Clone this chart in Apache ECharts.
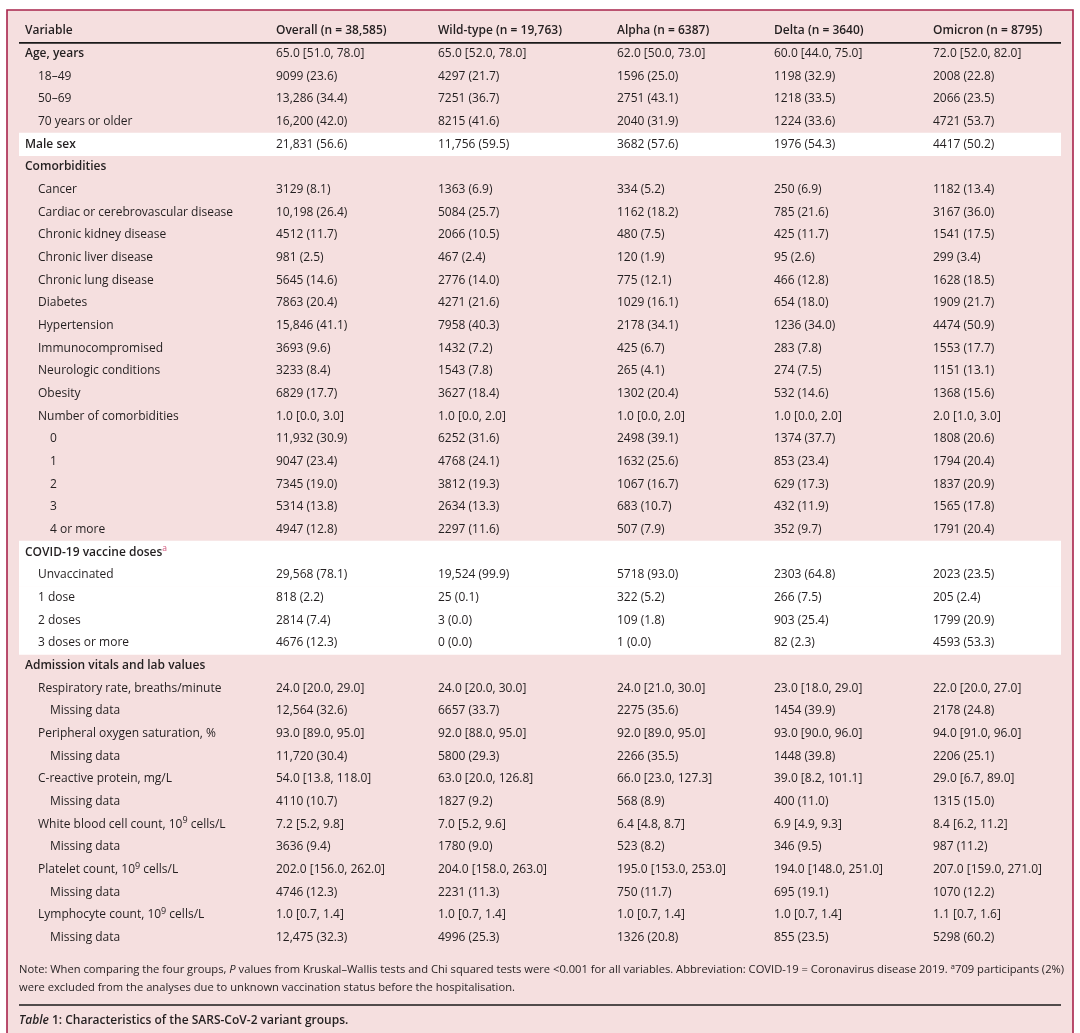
<!DOCTYPE html>
<html><head><meta charset="utf-8">
<script src="https://cdn.jsdelivr.net/npm/echarts@6/dist/echarts.min.js"></script>
<style>html,body{margin:0;padding:0;background:#fff}#c{width:1080px;height:1033px}</style>
</head><body><div id="c"></div>
<script>
// ---------- DATA ----------
const headers = ['Variable','Overall (n = 38,585)','Wild-type (n = 19,763)','Alpha (n = 6387)','Delta (n = 3640)','Omicron (n = 8795)'];
const variables = ['Age, years','18–49','50–69','70 years or older','Male sex','Comorbidities','Cancer','Cardiac or cerebrovascular disease','Chronic kidney disease','Chronic liver disease','Chronic lung disease','Diabetes','Hypertension','Immunocompromised','Neurologic conditions','Obesity','Number of comorbidities','0','1','2','3','4 or more','COVID-19 vaccine doses{sa|a}','Unvaccinated','1 dose','2 doses','3 doses or more','Admission vitals and lab values','Respiratory rate, breaths/minute','Missing data','Peripheral oxygen saturation, %','Missing data','C-reactive protein, mg/L','Missing data','White blood cell count, 10{sup|9} cells/L','Missing data','Platelet count, 10{sup|9} cells/L','Missing data','Lymphocyte count, 10{sup|9} cells/L','Missing data'];
const levels = [0,1,1,1,0,0,1,1,1,1,1,1,1,1,1,1,1,2,2,2,2,2,0,1,1,1,1,0,1,2,1,2,1,2,1,2,1,2,1,2];
const boldRows = [0,4,5,22,27];
const whiteRows = [4,22,23,24,25,26];
const overall = ['65.0 [51.0, 78.0]','9099 (23.6)','13,286 (34.4)','16,200 (42.0)','21,831 (56.6)','','3129 (8.1)','10,198 (26.4)','4512 (11.7)','981 (2.5)','5645 (14.6)','7863 (20.4)','15,846 (41.1)','3693 (9.6)','3233 (8.4)','6829 (17.7)','1.0 [0.0, 3.0]','11,932 (30.9)','9047 (23.4)','7345 (19.0)','5314 (13.8)','4947 (12.8)','','29,568 (78.1)','818 (2.2)','2814 (7.4)','4676 (12.3)','','24.0 [20.0, 29.0]','12,564 (32.6)','93.0 [89.0, 95.0]','11,720 (30.4)','54.0 [13.8, 118.0]','4110 (10.7)','7.2 [5.2, 9.8]','3636 (9.4)','202.0 [156.0, 262.0]','4746 (12.3)','1.0 [0.7, 1.4]','12,475 (32.3)'];
const wildType = ['65.0 [52.0, 78.0]','4297 (21.7)','7251 (36.7)','8215 (41.6)','11,756 (59.5)','','1363 (6.9)','5084 (25.7)','2066 (10.5)','467 (2.4)','2776 (14.0)','4271 (21.6)','7958 (40.3)','1432 (7.2)','1543 (7.8)','3627 (18.4)','1.0 [0.0, 2.0]','6252 (31.6)','4768 (24.1)','3812 (19.3)','2634 (13.3)','2297 (11.6)','','19,524 (99.9)','25 (0.1)','3 (0.0)','0 (0.0)','','24.0 [20.0, 30.0]','6657 (33.7)','92.0 [88.0, 95.0]','5800 (29.3)','63.0 [20.0, 126.8]','1827 (9.2)','7.0 [5.2, 9.6]','1780 (9.0)','204.0 [158.0, 263.0]','2231 (11.3)','1.0 [0.7, 1.4]','4996 (25.3)'];
const alpha = ['62.0 [50.0, 73.0]','1596 (25.0)','2751 (43.1)','2040 (31.9)','3682 (57.6)','','334 (5.2)','1162 (18.2)','480 (7.5)','120 (1.9)','775 (12.1)','1029 (16.1)','2178 (34.1)','425 (6.7)','265 (4.1)','1302 (20.4)','1.0 [0.0, 2.0]','2498 (39.1)','1632 (25.6)','1067 (16.7)','683 (10.7)','507 (7.9)','','5718 (93.0)','322 (5.2)','109 (1.8)','1 (0.0)','','24.0 [21.0, 30.0]','2275 (35.6)','92.0 [89.0, 95.0]','2266 (35.5)','66.0 [23.0, 127.3]','568 (8.9)','6.4 [4.8, 8.7]','523 (8.2)','195.0 [153.0, 253.0]','750 (11.7)','1.0 [0.7, 1.4]','1326 (20.8)'];
const delta = ['60.0 [44.0, 75.0]','1198 (32.9)','1218 (33.5)','1224 (33.6)','1976 (54.3)','','250 (6.9)','785 (21.6)','425 (11.7)','95 (2.6)','466 (12.8)','654 (18.0)','1236 (34.0)','283 (7.8)','274 (7.5)','532 (14.6)','1.0 [0.0, 2.0]','1374 (37.7)','853 (23.4)','629 (17.3)','432 (11.9)','352 (9.7)','','2303 (64.8)','266 (7.5)','903 (25.4)','82 (2.3)','','23.0 [18.0, 29.0]','1454 (39.9)','93.0 [90.0, 96.0]','1448 (39.8)','39.0 [8.2, 101.1]','400 (11.0)','6.9 [4.9, 9.3]','346 (9.5)','194.0 [148.0, 251.0]','695 (19.1)','1.0 [0.7, 1.4]','855 (23.5)'];
const omicron = ['72.0 [52.0, 82.0]','2008 (22.8)','2066 (23.5)','4721 (53.7)','4417 (50.2)','','1182 (13.4)','3167 (36.0)','1541 (17.5)','299 (3.4)','1628 (18.5)','1909 (21.7)','4474 (50.9)','1553 (17.7)','1151 (13.1)','1368 (15.6)','2.0 [1.0, 3.0]','1808 (20.6)','1794 (20.4)','1837 (20.9)','1565 (17.8)','1791 (20.4)','','2023 (23.5)','205 (2.4)','1799 (20.9)','4593 (53.3)','','22.0 [20.0, 27.0]','2178 (24.8)','94.0 [91.0, 96.0]','2206 (25.1)','29.0 [6.7, 89.0]','1315 (15.0)','8.4 [6.2, 11.2]','987 (11.2)','207.0 [159.0, 271.0]','1070 (12.2)','1.1 [0.7, 1.6]','5298 (60.2)'];
const noteLine1 = 'Note: When comparing the four groups, {i|P} values from Kruskal–Wallis tests and Chi squared tests were <0.001 for all variables. Abbreviation: COVID-19 = Coronavirus disease 2019. {sup|a}709 participants (2%)';
const noteLine2 = 'were excluded from the analyses due to unknown vaccination status before the hospitalisation.';
const caption = '{i|Table} 1: Characteristics of the SARS-CoV-2 variant groups.';

// ---------- LAYOUT / STYLE ----------
const FONT = '"Open Sans", "DejaVu Sans", sans-serif';
const FS = 12;
const NFS = 11.2;
const TXT = '#231f20';
const PINK = '#f5dfdf';
const CRIMSON = '#a8244c';
const BOLD = '600';
const colX = [25, 276, 438, 617, 774, 933];
const indentX = [25, 38, 50];
const tableLeft = 19, tableRight = 1061;
const columns = [overall, wildType, alpha, delta, omicron];
const nRows = variables.length + 1; // header + rows
const rowKeys = Array.from({length: nRows}, (_, i) => String(i));
const ROWH = 884 / 39;

const richStyles = {
  sup: {fontSize: 9, fontFamily: FONT, fill: TXT, verticalAlign: 'top', lineHeight: 8},
  sa: {fontSize: 8.5, fontFamily: FONT, fill: '#d0557a', verticalAlign: 'top', lineHeight: 8},
  i: {fontStyle: 'italic', fontFamily: FONT, fontSize: FS, fill: TXT}
};

function rowRender(params, api) {
  const r = api.value(0);
  const yc = api.coord([0, r])[1];
  const rowH = api.size([0, 1])[1];
  const children = [];
  if (r === 0) {
    headers.forEach((h, c) => {
      children.push({type: 'text', style: {text: h, x: api.coord([colX[c], r])[0], y: yc, fill: TXT,
        fontFamily: FONT, fontSize: FS, fontWeight: BOLD, verticalAlign: 'middle', align: 'left'}});
    });
    children.push({type: 'line', shape: {x1: api.coord([tableLeft, r])[0], x2: api.coord([tableRight, r])[0],
      y1: yc + rowH / 2 + 0.8, y2: yc + rowH / 2 + 0.8}, style: {stroke: '#1a1a1a', lineWidth: 1.8}});
  } else {
    const i = r - 1;
    const bold = boldRows.indexOf(i) >= 0;
    children.push({type: 'text', style: {text: variables[i], x: api.coord([indentX[levels[i]], r])[0], y: yc,
      fill: TXT, fontFamily: FONT, fontSize: FS, fontWeight: bold ? BOLD : 'normal',
      verticalAlign: 'middle', align: 'left', lineHeight: 16, rich: richStyles}});
    columns.forEach((col, c) => {
      if (col[i]) children.push({type: 'text', style: {text: col[i], x: api.coord([colX[c + 1], r])[0], y: yc,
        fill: TXT, fontFamily: FONT, fontSize: FS, verticalAlign: 'middle', align: 'left'}});
    });
  }
  return {type: 'group', children: children};
}

function bandRender(params, api) {
  const r = api.value(0);
  const yc = api.coord([0, r])[1];
  const rowH = api.size([0, 1])[1];
  const x1 = api.coord([tableLeft, r])[0], x2 = api.coord([tableRight, r])[0];
  return {type: 'rect', shape: {x: x1, y: yc - rowH / 2, width: x2 - x1, height: rowH + 0.5},
    style: {fill: '#ffffff'}};
}

const chart = echarts.init(document.getElementById('c'), null, {renderer: 'canvas'});
chart.setOption({
  animation: false,
  backgroundColor: '#ffffff',
  grid: {left: 0, right: 0, top: 19.5, height: 41 * ROWH, containLabel: false},
  xAxis: {type: 'value', min: 0, max: 1080, show: false},
  yAxis: {type: 'category', data: rowKeys, inverse: true, show: false},
  graphic: [
    {type: 'rect', z: -10, shape: {x: 7, y: 10, width: 1066, height: 1040},
      style: {fill: PINK, stroke: CRIMSON, lineWidth: 1.6}},
    {type: 'text', z: 5, style: {text: noteLine1, x: 19, y: 970, fill: TXT, fontFamily: FONT, fontSize: NFS,
      verticalAlign: 'middle', lineHeight: 14,
      rich: {i: {fontStyle: 'italic', fontFamily: FONT, fontSize: NFS, fill: TXT},
             sup: {fontSize: 8, fontFamily: FONT, fill: TXT, verticalAlign: 'top', lineHeight: 6}}}},
    {type: 'text', z: 5, style: {text: noteLine2, x: 19, y: 988, fill: TXT, fontFamily: FONT, fontSize: NFS,
      verticalAlign: 'middle'}},
    {type: 'line', z: 5, shape: {x1: 19, y1: 1005, x2: 1061, y2: 1005}, style: {stroke: '#1a1a1a', lineWidth: 1.5}},
    {type: 'text', z: 5, style: {text: caption, x: 19, y: 1021, fill: TXT, fontFamily: FONT, fontSize: 12,
      fontWeight: BOLD, verticalAlign: 'middle',
      rich: {i: {fontStyle: 'italic', fontWeight: BOLD, fontFamily: FONT, fontSize: 12, fill: TXT}}}}
  ],
  series: [
    {type: 'custom', name: 'bands', z: 1, renderItem: bandRender, silent: true,
      data: whiteRows.map(i => [i + 1])},
    {type: 'custom', name: 'rows', z: 3, renderItem: rowRender, silent: true,
      data: rowKeys.map((k, i) => [i])}
  ]
});
</script></body></html>
